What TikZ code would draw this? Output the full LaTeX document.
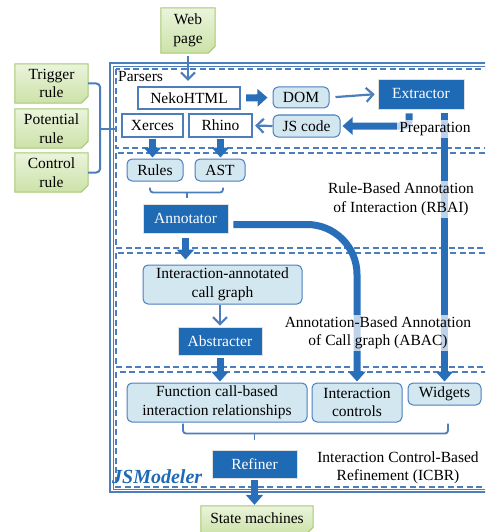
\documentclass[tikz,border=0pt]{standalone}
\usepackage{fontspec}
\setmainfont{Liberation Serif}
\usetikzlibrary{arrows.meta,backgrounds,calc}
\definecolor{dkblue}{RGB}{31,106,180}
\definecolor{arrblue}{RGB}{40,110,184}
\definecolor{lnblue}{RGB}{76,126,190}
\definecolor{ltfill}{RGB}{210,231,240}
\definecolor{gfillA}{RGB}{234,244,220}
\definecolor{gfillB}{RGB}{204,226,168}
\definecolor{gline}{RGB}{165,200,115}
\definecolor{gfold}{RGB}{178,208,128}
\newcommand\notebg[1]{%
  \begin{scope}[on background layer]
  \draw[gline, line width=1pt, top color=gfillA, bottom color=gfillB]
    (#1.north west) -- (#1.north east) -- ([yshift=7pt]#1.south east)
    -- ([xshift=-7pt]#1.south east) -- (#1.south west) -- cycle;
  \fill[gfold] ([yshift=7pt]#1.south east) -- ([xshift=-7pt]#1.south east)
    -- ([xshift=-5.5pt,yshift=2pt]#1.south east) -- cycle;
  \end{scope}}
\begin{document}
\begin{tikzpicture}[x=1pt,y=-1pt,
  font=\fontsize{15.5}{18.5}\selectfont,
  every node/.style={inner sep=0pt, align=center},
  wbox/.style={draw=lnblue, line width=2.2pt, fill=white, minimum height=22pt},
  rbox/.style={draw=lnblue, line width=1pt, fill=ltfill, rounded corners=5pt},
  dbox/.style={fill=dkblue, text=white, draw=black!12, line width=0.6pt},
  lbl/.style={fill=white, fill opacity=0.7, text opacity=1, inner sep=2pt},
  tarr/.style={arrblue, line width=7pt, -{Triangle[width=17pt,length=10pt]}},
  narr/.style={lnblue, line width=2.2pt, -{Straight Barb[width=14pt,length=7pt]}},
  brk/.style={lnblue, line width=1.8pt, rounded corners=3pt},
  dsh/.style={lnblue, line width=1.3pt, dash pattern=on 6pt off 3.5pt}]
\clip (0,0) rectangle (485,532);
\useasboundingbox (0,0) rectangle (485,532);

% frames
\draw[lnblue, line width=2.6pt] (110,63) rectangle (500,492);
\draw[lnblue, line width=0.8pt] (113,66) rectangle (497,489.5);
\draw[dsh] (116,69) rectangle (495,148);
\draw[dsh] (116,153) rectangle (495,248);
\draw[dsh] (116,253) rectangle (495,367);
\draw[dsh] (116,372) rectangle (495,487);

% notes
\node[minimum width=54pt, minimum height=45pt] (web) at (188,30.5) {Web\\page};
\node[minimum width=73pt, minimum height=39pt] (trig) at (51.5,83.5) {Trigger\\rule};
\node[minimum width=73pt, minimum height=39pt] (pot) at (51.5,128.5) {Potential\\rule};
\node[minimum width=73pt, minimum height=39pt] (ctrl) at (51.5,172.5) {Control\\rule};
\node[minimum width=112pt, minimum height=28pt, text depth=0pt] (state) at (257,520) {\raisebox{4pt}{State machines}};
\notebg{web}\notebg{trig}\notebg{pot}\notebg{ctrl}\notebg{state}

% section 1
\node[anchor=west] (parsers) at (118,77) {Parsers};
\node[wbox, minimum width=102pt] (neko) at (189,98) {NekoHTML};
\node[wbox, minimum width=61pt, minimum height=23pt] (xerces) at (152.5,125.5) {Xerces};
\node[wbox, minimum width=63pt, minimum height=23pt] (rhino) at (220.5,125.5) {Rhino};
\node[rbox, minimum width=56pt, minimum height=21pt] (dom) at (301,97.5) {DOM};
\node[dbox, minimum width=86pt, minimum height=30pt] (extractor) at (421,94) {Extractor};
\node[rbox, minimum width=67pt, minimum height=22pt] (jscode) at (306.5,126) {JS code};

% section 2
\node[rbox, minimum width=56pt, minimum height=22pt] (rules) at (155,170) {Rules};
\node[rbox, minimum width=50pt, minimum height=22pt] (ast) at (220,170) {AST};
\node[dbox, minimum width=85pt, minimum height=29pt] (annot) at (185.5,218.5) {Annotator};

% section 3
\node[rbox, minimum width=159pt, minimum height=39pt] (icg) at (222.5,284.5) {Interaction-annotated\\call graph};
\node[dbox, minimum width=84pt, minimum height=28pt] (abstr) at (220,341) {Abstracter};

% section 4
\node[rbox, minimum width=180pt, minimum height=39pt] (fcb) at (217,402.5) {Function call-based\\interaction relationships};
\node[rbox, minimum width=90pt, minimum height=39pt] (ictl) at (357,402.5) {Interaction\\controls};
\node[rbox, minimum width=73pt, minimum height=22pt] (widg) at (444.5,394) {Widgets};
\node[dbox, minimum width=85pt, minimum height=28pt] (refiner) at (254.5,464) {Refiner};
\node[anchor=west, text=dkblue, font=\fontsize{20}{22}\selectfont\bfseries\itshape] (jsm) at (112,477) {JSModeler};

% rule bracket
\draw[lnblue, line width=2pt, rounded corners=4pt] (trig.east) -| ([xshift=12pt]pot.east) |- (ctrl.east);
\draw[lnblue, line width=2pt] ([xshift=12pt]pot.east) -- ([xshift=-4pt]xerces.west |- pot.east);

% connectors
\draw[narr, shorten <=3pt, shorten >=5pt] (web.south) -- (web.south |- neko.north);
\draw[tarr, shorten <=5pt, shorten >=5pt] (neko.east) -- (dom.west);
\draw[narr, shorten <=6pt, shorten >=3pt] (dom.east) -- (extractor.west);
\draw[narr, shorten >=2pt] (jscode.west) -- (rhino.east);
\draw[tarr, rounded corners=5pt, shorten >=2pt] ([xshift=-12pt,yshift=-4pt]extractor.south) |- (jscode.east);
\draw[tarr, shorten <=4pt, shorten >=1pt] (extractor.south -| widg.north) -- (widg.north);
\draw[tarr, shorten <=1pt, shorten >=1pt] (xerces.south) -- (xerces.south |- rules.north);
\draw[tarr, shorten <=1pt, shorten >=1pt] (rhino.south) -- (rhino.south |- ast.north);
\draw[brk] ([xshift=-5pt,yshift=-6pt]rules.south) -- ++(0,5) -| ([xshift=3pt,yshift=-6pt]ast.south);
\draw[brk] (187,192) -- (187,198);
\draw[tarr, shorten <=5pt, shorten >=5pt] (annot.south) -- (annot.south |- icg.north);
\draw[tarr, rounded corners=50pt, shorten >=1pt] ([xshift=5pt,yshift=-6pt]annot.east) -| (ictl.north);
\draw[narr, shorten >=1pt] (icg.south -| abstr.north) -- (abstr.north);
\draw[tarr, shorten <=3pt, shorten >=1pt] (abstr.south) -- (abstr.south |- fcb.north);
\draw[brk] ([xshift=-34pt,yshift=-1pt]fcb.south) -- ++(0,10) -| ([xshift=3.5pt,yshift=-18pt]widg.south);
\draw[brk] (refiner.north |- 0,433) -- ++(0,7);
\draw[tarr, shorten <=2pt, shorten >=1pt] (refiner.south) -- (refiner.south |- state.north);

% labels
\node[lbl] (prep) at (435,129) {Preparation};
\node[lbl] (rbai) at (401,199.5) {Rule-Based Annotation\\of Interaction (RBAI)};
\node[lbl] (abac) at (378,333) {Annotation-Based Annotation\\of Call graph (ABAC)};
\node[lbl] (icbr) at (398,468) {Interaction Control-Based\\Refinement (ICBR)};
\end{tikzpicture}
\end{document}
